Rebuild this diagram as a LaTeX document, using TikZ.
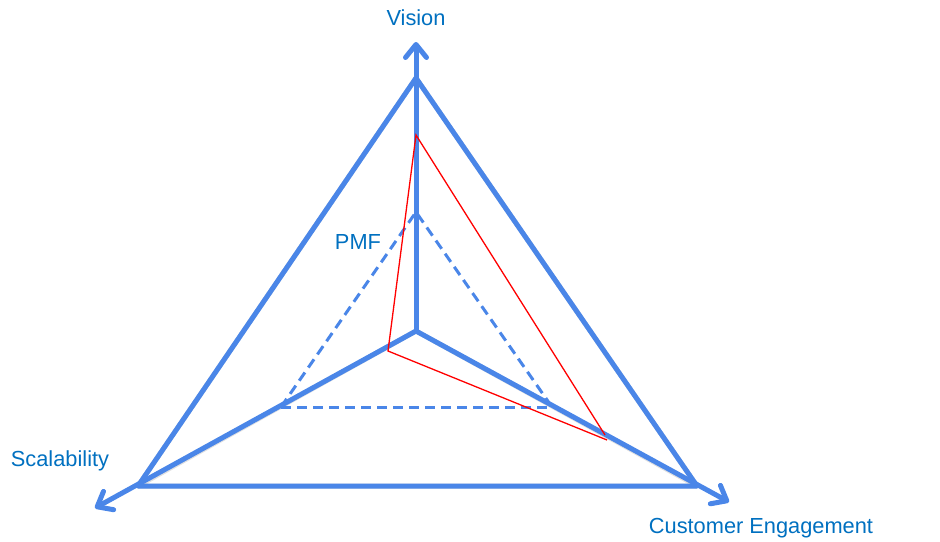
\documentclass[tikz,border=0pt]{standalone}
\usepackage{fontspec}
\setmainfont{Liberation Sans}
\usetikzlibrary{arrows.meta}
\definecolor{axisblue}{RGB}{74,134,232}
\definecolor{txtblue}{RGB}{0,112,192}
\begin{document}
\begin{tikzpicture}[x=1pt,y=-1pt,
  outer/.style={draw=axisblue, line width=5pt, line join=round},
  axisline/.style={draw=axisblue, line width=5pt, line cap=round,
    -{Straight Barb[length=13pt,width=21pt,line width=5pt,round]}},
  shadowline/.style={draw=black!35, opacity=0.35, line width=5pt, line join=round},
  pmf/.style={draw=axisblue, line width=3pt, dash pattern=on 10pt off 6pt},
  redline/.style={draw=red, line width=1.3pt},
  lbl/.style={text=txtblue, font=\fontsize{21.8}{24}\selectfont, inner sep=0pt}]
\useasboundingbox (0,0) rectangle (940,541);
\coordinate (C) at (416,331);
\coordinate (V) at (416,78);
\coordinate (S) at (138,486);
\coordinate (E) at (697,486);
\coordinate (Vt) at (416,42);
\coordinate (St) at (95,508);
\coordinate (Et) at (729,502);
\coordinate (P1) at (416,212);
\coordinate (P2) at (281,407);
\coordinate (P3) at (552,407);
\coordinate (R1) at (416,135);
\coordinate (R2) at (388,351);
\coordinate (R3) at (607,440);
\coordinate (R4) at (605,435);
% faint shadows
\begin{scope}[shift={(2,2)}]
\draw[shadowline] (V) -- (S) -- (E) -- cycle;
\draw[shadowline] (C) -- (V);
\draw[shadowline] (C) -- (S);
\draw[shadowline] (C) -- (E);
\end{scope}
% outer triangle
\draw[outer] (V) -- (S) -- (E) -- cycle;
% PMF dashed triangle
\draw[pmf] (P2) -- (P3);
\draw[pmf] (P2) -- (P1) -- (P3);
% axes
\draw[axisline] (C) -- (Vt);
\draw[axisline] (C) -- (St);
\draw[axisline] (C) -- (Et);
% red triangle
\draw[redline] (R4) -- (R1) -- (R2) -- (R3);
% labels
\node[lbl] (vision) at (416,18) {Vision};
\node[lbl] (scal) at (60,461) {Scalability};
\node[lbl] (cust) at (761,528) {Customer Engagement};
\node[lbl] (pmflbl) at (358,242) {PMF};
\end{tikzpicture}
\end{document}
